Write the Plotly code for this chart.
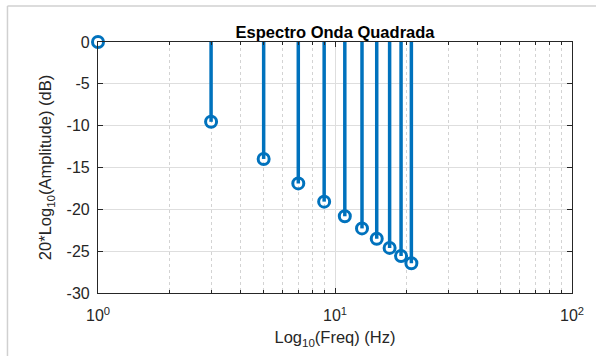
import plotly.graph_objects as go

# Odd harmonics of a square wave and their relative amplitude in dB
harmonics = [1, 3, 5, 7, 9, 11, 13, 15, 17, 19, 21]
amplitude_db = [0.0, -9.54, -13.98, -16.90, -19.08, -20.83, -22.28, -23.52, -24.61, -25.58, -26.44]
baseline_db = 0.0

x_tickvals = [1, 10, 100]
x_ticktext = ["10<sup>0</sup>", "10<sup>1</sup>", "10<sup>2</sup>"]
x_minor_tickvals = [2, 3, 4, 5, 6, 7, 8, 9, 20, 30, 40, 50, 60, 70, 80, 90]
y_tickvals = [0, -5, -10, -15, -20, -25, -30]
y_ticktext = ["0", "-5", "-10", "-15", "-20", "-25", "-30"]

blue = "#0072BD"
ink = "#262626"
font_family = "Liberation Sans, Arial, Helvetica, sans-serif"

# stem lines from baseline to each value
stem_x, stem_y = [], []
for f, a in zip(harmonics, amplitude_db):
    stem_x += [f, f, None]
    stem_y += [baseline_db, a, None]

fig = go.Figure()
fig.add_trace(go.Scatter(
    x=stem_x, y=stem_y, mode="lines",
    line=dict(color=blue, width=3.5),
    hoverinfo="skip", showlegend=False, cliponaxis=False,
))
fig.add_trace(go.Scatter(
    x=harmonics, y=amplitude_db, mode="markers",
    marker=dict(symbol="circle-open", size=11, color=blue, line=dict(color=blue, width=3)),
    showlegend=False, cliponaxis=False,
))

axis_common = dict(
    showline=True, linecolor=ink, linewidth=1.2, mirror="ticks",
    ticks="inside", ticklen=5, tickcolor=ink, tickwidth=1,
    gridcolor="#DEDEDE", gridwidth=1, zeroline=False,
    tickfont=dict(size=16, color=ink, family=font_family),
)
title_font = dict(size=16.5, color=ink, family=font_family)

fig.update_xaxes(
    type="log", range=[0, 2],
    tickmode="array", tickvals=x_tickvals, ticktext=x_ticktext,
    ticklabelstandoff=8,
    minor=dict(tickmode="array", tickvals=x_minor_tickvals,
               showgrid=True, gridcolor="#D3D3D3", griddash="dot", gridwidth=1,
               ticks="inside", ticklen=3, tickcolor=ink),
    title=dict(text="Log<sub>10</sub>(Freq) (Hz)", font=title_font, standoff=8),
    **axis_common,
)
fig.update_yaxes(
    range=[-30, 0], tickmode="array", tickvals=y_tickvals, ticktext=y_ticktext,
    ticklabelstandoff=4,
    title=dict(text="20*Log<sub>10</sub>(Amplitude) (dB)", font=title_font, standoff=10),
    **axis_common,
)

# outer figure frame lines
fig.add_shape(type="line", xref="paper", yref="paper", x0=-0.191, x1=1.1, y0=1.143, y1=1.143,
              line=dict(color="#D0D0D0", width=1.5))
fig.add_shape(type="line", xref="paper", yref="paper", x0=-0.191, x1=-0.191, y0=1.143, y1=-0.3,
              line=dict(color="#D0D0D0", width=1.5))

fig.update_layout(
    width=596, height=356,
    margin=dict(l=98, r=22, t=42, b=63),
    paper_bgcolor="white", plot_bgcolor="white",
    title=dict(text="<b>Espectro Onda Quadrada</b>", x=0.5, xref="paper", y=1.0, yref="paper",
               yanchor="bottom", pad=dict(b=4),
               font=dict(size=16.5, color="black", family=font_family)),
    font=dict(family=font_family),
)

fig.write_html("out.html")
